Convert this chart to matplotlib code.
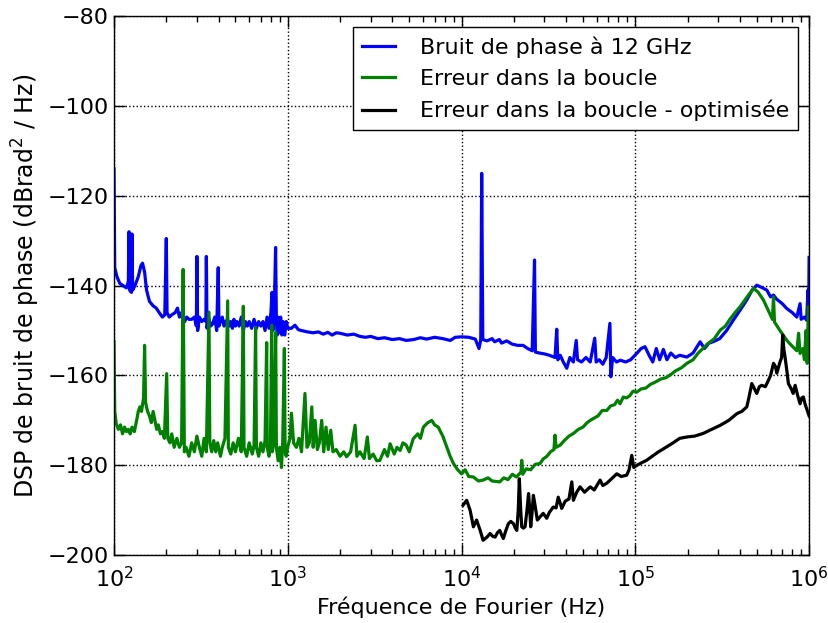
import matplotlib
matplotlib.use('Agg')
import matplotlib.pyplot as plt
import numpy as np

# Phase noise at 12 GHz (blue)
blue_f = [100, 101, 104, 108, 113, 118, 121, 122, 123, 126, 127, 128, 132, 138, 143, 146, 150, 154, 160, 168,
          175, 182, 190, 196, 200, 202, 208, 215, 225, 232, 238, 245, 255, 262, 270, 280, 290, 298, 300, 303,
          310, 320, 330, 338, 340, 343, 350, 360, 370, 380, 390, 398, 402, 410, 420, 430, 440, 450, 460, 470,
          480, 490, 500, 510, 525, 540, 555, 570, 585, 600, 620, 640, 660, 680, 700, 720, 740, 760, 780, 800,
          812, 820, 835, 851, 860, 870, 880, 895, 910, 925, 940, 960, 980, 1000, 1050, 1100, 1150, 1200, 1300, 1400,
          1500, 1600, 1700, 1800, 1900, 2000, 2200, 2400, 2600, 2800, 3000, 3300, 3600, 4000, 4400, 4800, 5300,
          5800, 6300, 7000, 7800, 8600, 9200, 10000, 11000, 12000, 12600, 12900, 13060, 13250, 14000, 15000,
          15500, 16500, 17000, 18200, 19500, 21000, 22600, 24000, 25500, 26300, 26600, 28000, 30000, 32000, 34500,
          35300, 35800, 37000, 38500, 40300, 42000, 44000, 45700, 46500, 49000, 52000, 55000, 58400, 59500, 62000,
          65000, 68000, 71400, 72300, 74000, 78000, 82000, 88000, 94000, 101800, 108000, 113700, 120000, 126000,
          132000, 138000, 145000, 152000, 160000, 170000, 180000, 198000, 215000, 236000, 250000, 265000, 280000,
          306000, 335000, 366000, 400000, 438000, 470000, 500000, 540000, 571000, 600000, 624000, 650000, 700000,
          744000, 800000, 850000, 887000, 900000, 940000, 968000, 985000, 995000, 1000000]
blue_db = [-114, -136, -138, -139.5, -140, -140.5, -139, -128, -141, -141.5, -128.5, -141, -140, -138, -135.5,
           -135, -137, -141, -143.5, -144.5, -145, -146, -147, -146.5, -129.5, -146, -147, -146.5, -146, -145,
           -147, -146, -148, -147, -147.5, -147.5, -147, -149, -133.5, -150, -147, -148, -147.5, -148, -133.5,
           -149.5, -147, -149, -148.5, -147, -150, -136, -149, -148, -147, -149, -148, -147.5, -149, -148,
           -149.5, -147.5, -149, -148, -149, -147, -150, -148, -149, -148, -149.5, -147.5, -149.5, -148, -149,
           -148, -150, -147, -149.5, -146, -141.5, -150, -147, -131.5, -148, -151, -147, -150.5, -147, -151,
           -148, -151, -148, -149.5, -149.5, -148.8, -149.8, -150, -150.3, -150.5, -150.3, -150.8, -150.4, -151,
           -150.5, -150.6, -151, -150.8, -151.3, -151.5, -151.3, -151.8, -151.6, -152, -151.8, -152.2, -152,
           -151.6, -151.9, -151.5, -151.8, -152.2, -151.5, -151.4, -151.5, -151.9, -154, -152, -115, -152,
           -152.3, -151.8, -152.5, -152, -152.8, -152.3, -153, -153.3, -153.3, -154, -154.5, -134.3, -154.8,
           -155, -155.2, -155.5, -156, -149.7, -156.5, -155.5, -157, -158.4, -156, -157, -152.2, -156.5, -157,
           -156, -157, -151.7, -157, -156.5, -157.5, -156, -148.4, -160.3, -156, -157, -156.6, -157, -156.5,
           -155.1, -154, -153.6, -155.5, -157, -154, -156.5, -154.2, -156.5, -155, -156, -155.5, -155.9, -155,
           -152.5, -154, -152.8, -152.5, -151.8, -150, -147.7, -145.5, -143.2, -141, -139.9, -140.5, -141,
           -142.5, -142.1, -143, -144, -145.1, -146, -147, -144, -147.5, -147, -147.7, -141, -146, -133.7]

# In-loop error (green)
green_f = [100, 101, 103, 106, 109, 112, 115, 118, 121, 124, 127, 131, 135, 138, 141, 144, 148, 150, 152, 156,
           160, 164, 168, 172, 176, 180, 185, 190, 195, 201, 204, 210, 215, 222, 230, 238, 245, 250, 254, 260,
           270, 280, 290, 300, 310, 320, 330, 340, 352, 356, 365, 375, 385, 395, 410, 420, 435, 451, 455, 470,
           485, 500, 520, 540, 555, 560, 580, 600, 625, 640, 653, 660, 680, 700, 720, 740, 756, 762, 780, 795,
           808, 815, 830, 852, 860, 880, 900, 920, 935, 956, 965, 980, 1000, 1030, 1050, 1080, 1120, 1160, 1200,
           1256, 1290, 1330, 1375, 1400, 1436, 1480, 1520, 1568, 1610, 1660, 1710, 1767, 1820, 1900, 2000, 2100,
           2180, 2300, 2440, 2500, 2600, 2750, 2870, 2950, 3100, 3250, 3390, 3600, 3750, 3880, 4100, 4250, 4430,
           4600, 4800, 5000, 5270, 5600, 5800, 6030, 6400, 6740, 7000, 7340, 7800, 8220, 8600, 8980, 9500, 10000,
           10500, 11000, 11700, 12500, 13300, 14200, 15000, 16600, 17500, 18500, 19600, 20700, 22000, 22200,
           22500, 23500, 25000, 26500, 28300, 29500, 31000, 32500, 34000, 34500, 35000, 37000, 39000, 41500,
           44100, 47000, 50000, 52500, 55000, 58000, 61000, 64500, 68500, 72000, 76000, 79000, 81600, 85300,
           89000, 93000, 97000, 102000, 108000, 115000, 122000, 130000, 140000, 150000, 160000, 170000, 184000,
           198000, 215000, 230000, 245000, 260000, 285000, 308000, 330000, 350000, 375000, 401000, 440000, 479000,
           510000, 546000, 590000, 615000, 624000, 632000, 680000, 745000, 800000, 850000, 870000, 887000, 920000,
           940000, 960000, 975000, 990000, 1000000]
green_db = [-152.5, -168, -170.7, -172, -171, -173, -171.5, -172.5, -172, -173, -171.5, -172.5, -170, -168, -167,
            -168, -165, -153.3, -166, -168, -169, -170.5, -168, -170, -172, -171, -173, -172.5, -174, -159.6, -174,
            -175, -173, -176, -174, -176, -175, -136.4, -177, -176, -178, -175, -177, -173.5, -176, -178, -174,
            -177, -145.9, -175, -177, -174.5, -177, -175, -178, -176, -174, -143.4, -176, -177.5, -175, -177, -174,
            -177, -144.6, -176, -178, -175, -177.5, -175.5, -149.3, -176, -178, -175, -177, -174.5, -152.7, -176,
            -178, -175.5, -148.8, -177, -175, -150.4, -176, -179, -176, -180.5, -175, -154, -177, -178, -175.9,
            -174, -168.4, -175, -176, -174, -177, -164, -176, -175, -167, -176, -170, -176.5, -175, -170, -177,
            -171.5, -176.5, -172.2, -177, -176.5, -178, -177, -178.1, -177, -171.1, -178, -177, -178.5, -173.7,
            -178.5, -177.5, -179, -178.9, -176.5, -178, -175.2, -177.5, -176, -176.7, -175, -175.5, -177, -174.1,
            -173, -174, -171.5, -170.5, -170, -171, -171.5, -173.5, -175.9, -178, -179.6, -181, -181.9, -181,
            -182.5, -182.6, -183.5, -183.3, -182.8, -183.5, -183.7, -182.8, -183.2, -182, -182.6, -181.5, -178.9,
            -182, -180.8, -181, -179.8, -179.6, -178.6, -178, -177, -176.5, -173.3, -176, -175.5, -174.5, -173.5,
            -172.9, -172, -171.5, -170.6, -170, -169.5, -169, -167.8, -167.8, -166.8, -166.5, -165.5, -166.3,
            -164.8, -165, -164.5, -163.5, -163.7, -163, -162.8, -162, -161.5, -160.8, -160.5, -159.8, -159,
            -158.3, -157.3, -156.5, -155, -154, -153, -151.8, -149.9, -149, -147.5, -146, -144.7, -142.5, -140.6,
            -141.5, -143.2, -146, -147.5, -142.5, -148.1, -150, -152.2, -153.5, -154.5, -150.6, -155.1, -154,
            -156.5, -150, -157.3, -144.7, -146]

# In-loop error, optimised (black)
black_f = [10200, 10700, 11200, 11700, 12200, 12800, 13300, 14000, 14600, 15100, 15600, 16100, 16600, 17000,
           17400, 18000, 18600, 19200, 19900, 20400, 20800, 21200, 21500, 21900, 22200, 22700, 23200, 23800,
           24300, 24700, 25000, 25400, 25900, 26500, 27300, 28300, 29500, 30900, 32000, 33700, 35000, 36000,
           37000, 37700, 39500, 41500, 43100, 44000, 46000, 48100, 51000, 55000, 58000, 62700, 65000, 68500,
           73000, 78200, 83000, 89200, 92000, 95400, 98000, 102000, 108000, 116000, 125000, 136000, 150000,
           165000, 180000, 198000, 220000, 246000, 275000, 308000, 345000, 384000, 410000, 438000, 450000,
           468000, 485000, 500000, 517000, 534000, 560000, 583000, 600000, 624000, 640000, 652000, 680000,
           695000, 705000, 715000, 727000, 745000, 760000, 790000, 810000, 831000, 860000, 887000, 907000,
           927000, 950000, 970000, 990000, 1000000]
black_db = [-188.9, -187.8, -190, -193.7, -192.2, -194.5, -196.7, -196, -195.2, -195.8, -196, -195, -194.5,
            -195.5, -196.3, -194.5, -193, -192.5, -193, -194, -194.5, -190, -183, -190, -193.7, -194, -193.7,
            -190, -186.3, -190, -193.7, -191, -186.7, -189, -192.2, -191.5, -190.7, -191.8, -190.5, -189.3,
            -189.5, -187.1, -188.5, -189.6, -188, -187.5, -183.7, -187.8, -186, -184.8, -186, -184.8, -185.5,
            -183.3, -184.5, -184, -183, -181.9, -182.5, -182.2, -181, -177.8, -180.5, -180, -179.5, -178.9,
            -178, -177, -176, -175, -174, -173.7, -173.5, -172.9, -172, -171.1, -170, -168.5, -168, -167,
            -165, -161.8, -163, -164, -162.5, -162.2, -162.5, -161.1, -160, -157.3, -158, -159.5, -157, -156,
            -151, -154, -155.9, -159, -161.8, -163, -164, -162.2, -164.5, -166.3, -165, -164.8, -166.5,
            -167.5, -168.5, -169]

labels = ['Bruit de phase à 12 GHz', 'Erreur dans la boucle', 'Erreur dans la boucle - optimisée']

fig = plt.figure(figsize=(8.29, 6.23), dpi=100)
ax = fig.add_axes([0.1375, 0.109, 0.8385, 0.865])

ax.semilogx(blue_f, blue_db, color='b', lw=2.3, label=labels[0])
ax.semilogx(green_f, green_db, color='g', lw=2.3, label=labels[1])
ax.semilogx(black_f, black_db, color='k', lw=2.3, label=labels[2])

ax.set_xlim(1e2, 1e6)
ax.set_ylim(-200, -80)
ax.set_yticks(np.arange(-200, -79, 20))
ax.grid(True, which='major', color='k', linestyle=':', linewidth=1)
ax.tick_params(which='both', direction='in', top=True, right=True, labelsize=16)
ax.tick_params(which='major', length=8, width=1)
ax.tick_params(which='minor', length=4, width=1)
ax.tick_params(axis='x', pad=8)
for s in ax.spines.values():
    s.set_linewidth(1)

ax.set_xlabel('Fréquence de Fourier (Hz)', fontsize=16)
ax.set_ylabel('DSP de bruit de phase (dBrad$^2$ / Hz)', fontsize=17)

leg = ax.legend(loc='upper right', fontsize=16, fancybox=False, framealpha=1,
                edgecolor='k', handlelength=1.5, handletextpad=1.1,
                labelspacing=0.5, borderaxespad=0.5)
leg.get_frame().set_linewidth(1)

fig.savefig('out.png', dpi=100)
